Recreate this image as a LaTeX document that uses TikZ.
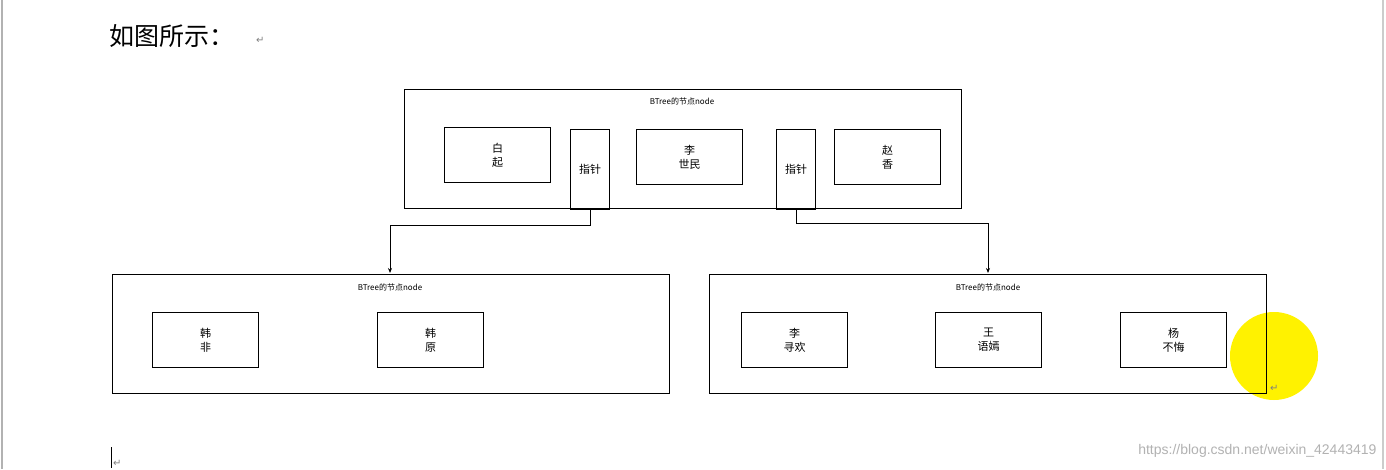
\documentclass[tikz,border=0pt]{standalone}
\usepackage{fontspec}
\setmainfont{Liberation Sans}
\newfontfamily\cjk{Noto Sans CJK SC}
\newfontfamily\dejavu{DejaVu Sans}
\usetikzlibrary{arrows.meta}
\begin{document}
\begin{tikzpicture}[x=1pt,y=-1pt,
  box/.style={draw,line width=1pt},
  cell/.style={draw,line width=1pt,font=\cjk\fontsize{11}{14}\selectfont,align=center,anchor=north west,inner sep=0pt},
  lbl/.style={font=\cjk\fontsize{8}{9}\selectfont,anchor=center},
  ret/.style={font=\dejavu\fontsize{10}{10}\selectfont,text=gray},
  conn/.style={line width=0.8pt,-{Stealth[length=5pt,width=4pt]}}]
\useasboundingbox (0,0) rectangle (1386,469);
\fill[white] (0,0) rectangle (1386,469);
\draw[gray!60,line width=1.5pt] (2,0) -- (2,469);
\draw[gray!40,line width=2pt] (1383,0) -- (1383,469);
\fill[yellow] (1274,356) ellipse (44 and 44);
\node[anchor=west,font=\cjk\fontsize{25}{27}\selectfont,inner sep=0pt] (title) at (109,36) {如图所示：};
\node[ret,anchor=west,inner sep=0pt] (r0) at (256,40) {↵};
% top node
\draw[box] (404,89) rectangle (961,208);
\node[lbl] (t0) at (682,101) {BTree的节点node};
\node[cell,minimum width=106pt,minimum height=55pt] (a1) at (444,127) {白\\起};
\node[cell,minimum width=39pt,minimum height=80pt] (p1) at (570,129) {指针};
\node[cell,minimum width=106pt,minimum height=55pt] (a2) at (636,129) {李\\世民};
\node[cell,minimum width=39pt,minimum height=80pt] (p2) at (776,129) {指针};
\node[cell,minimum width=106pt,minimum height=55pt] (a3) at (834,129) {赵\\香};
% left node
\draw[box] (112,274) rectangle (669,393);
\node[lbl] (t1) at (390,287) {BTree的节点node};
\node[cell,minimum width=106pt,minimum height=55pt] (b1) at (152,312) {韩\\非};
\node[cell,minimum width=106pt,minimum height=55pt] (b2) at (377,312) {韩\\原};
% right node
\draw[box] (709,274) rectangle (1266,393);
\node[lbl] (t2) at (988,287) {BTree的节点node};
\node[cell,minimum width=106pt,minimum height=55pt] (c1) at (741,312) {李\\寻欢};
\node[cell,minimum width=106pt,minimum height=55pt] (c2) at (935,312) {王\\语嫣};
\node[cell,minimum width=106pt,minimum height=55pt] (c3) at (1120,312) {杨\\不悔};
\coordinate (Ltop) at (390,273);
\coordinate (Rtop) at (988,273);
\draw[conn] (p1.south) -- ++(0,15) -| (Ltop);
\draw[conn] (p2.south) -- ++(0,13) -| (Rtop);
\node[ret,anchor=west,inner sep=0pt] (r1) at (1270,388) {↵};
\draw[line width=1pt] (111,447) -- (111,468);
\node[ret,anchor=west,inner sep=0pt] (r2) at (113,463) {↵};
\node[anchor=east,text=gray!60,font=\fontsize{14}{14}\selectfont] (wm) at (1380,451) {https://blog.csdn.net/weixin\_42443419};
\end{tikzpicture}
\end{document}
